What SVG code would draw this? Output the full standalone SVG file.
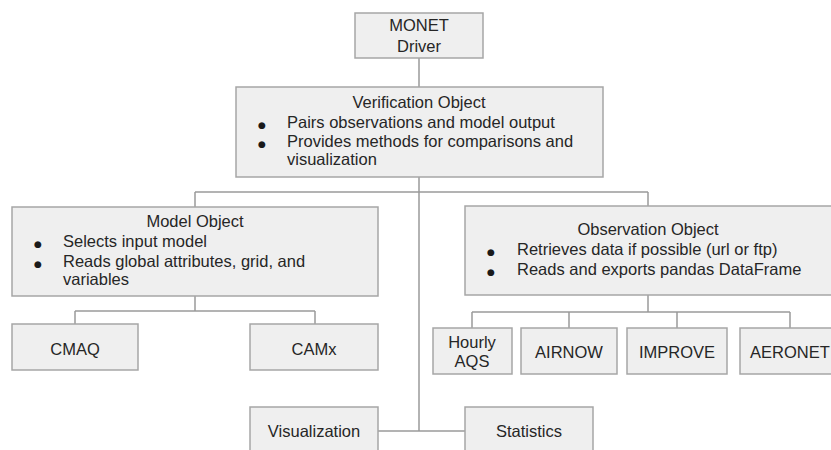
<svg xmlns="http://www.w3.org/2000/svg" width="831" height="450" viewBox="0 0 831 450">
<style>
.box{fill:#efefef;stroke:#a6a6a6;stroke-width:1.5}
.t{font-family:"Liberation Sans",Arial,sans-serif;font-size:16.5px;fill:#262626}
.b{font-family:"DejaVu Sans",sans-serif;font-size:9px;fill:#1a1a1a}
.c{text-anchor:middle}
.ln{fill:none;stroke:#9a9a9a;stroke-width:1.5}
</style>
<rect width="831" height="450" fill="#fff"/>
<g id="connectors">
<path class="ln" d="M419 58V87M419 177V431M195 192H648M195 192V207M648 192V206M195 296V311M75 311H315M75 311V324M315 311V324M648 295V312M472 312H790M472 312V328M569 312V328M677 312V328M790 312V328M378 431H465"/>
</g>
<g id="monet">
<rect class="box" x="355" y="13" width="128" height="45"/>
<text class="t c" x="419" y="31">MONET</text>
<text class="t c" x="419" y="52">Driver</text>
</g>
<g id="verification">
<rect class="box" x="236" y="87" width="367" height="90"/>
<text class="t c" x="419" y="108">Verification Object</text>
<text class="b" x="258" y="128">●</text>
<text class="t" x="287" y="128">Pairs observations and model output</text>
<text class="b" x="258" y="147">●</text>
<text class="t" x="287" y="147">Provides methods for comparisons and</text>
<text class="t" x="287" y="165">visualization</text>
</g>
<g id="model">
<rect class="box" x="12" y="207" width="366" height="89"/>
<text class="t c" x="195" y="227">Model Object</text>
<text class="b" x="34" y="247">●</text>
<text class="t" x="63" y="247">Selects input model</text>
<text class="b" x="34" y="267">●</text>
<text class="t" x="63" y="267">Reads global attributes, grid, and</text>
<text class="t" x="63" y="285">variables</text>
</g>
<g id="observation">
<rect class="box" x="465" y="206" width="375" height="89"/>
<text class="t c" x="648" y="235">Observation Object</text>
<text class="b" x="487" y="255">●</text>
<text class="t" x="517" y="255">Retrieves data if possible (url or ftp)</text>
<text class="b" x="487" y="275">●</text>
<text class="t" x="517" y="275">Reads and exports pandas DataFrame</text>
</g>
<g id="cmaq">
<rect class="box" x="12" y="324" width="126" height="46"/>
<text class="t c" x="75" y="355">CMAQ</text>
</g>
<g id="camx">
<rect class="box" x="250" y="324" width="128" height="46"/>
<text class="t c" x="314" y="355">CAMx</text>
</g>
<g id="hourly-aqs">
<rect class="box" x="433" y="328" width="79" height="46"/>
<text class="t c" x="472" y="348">Hourly</text>
<text class="t c" x="472" y="367">AQS</text>
</g>
<g id="airnow">
<rect class="box" x="521" y="328" width="96" height="46"/>
<text class="t c" x="569" y="358">AIRNOW</text>
</g>
<g id="improve">
<rect class="box" x="627" y="328" width="100" height="46"/>
<text class="t c" x="677" y="358">IMPROVE</text>
</g>
<g id="aeronet">
<rect class="box" x="740" y="328" width="100" height="46"/>
<text class="t c" x="790" y="358">AERONET</text>
</g>
<g id="visualization">
<rect class="box" x="250" y="407" width="128" height="60"/>
<text class="t c" x="314" y="437">Visualization</text>
</g>
<g id="statistics">
<rect class="box" x="465" y="407" width="128" height="60"/>
<text class="t c" x="529" y="437">Statistics</text>
</g>
</svg>
